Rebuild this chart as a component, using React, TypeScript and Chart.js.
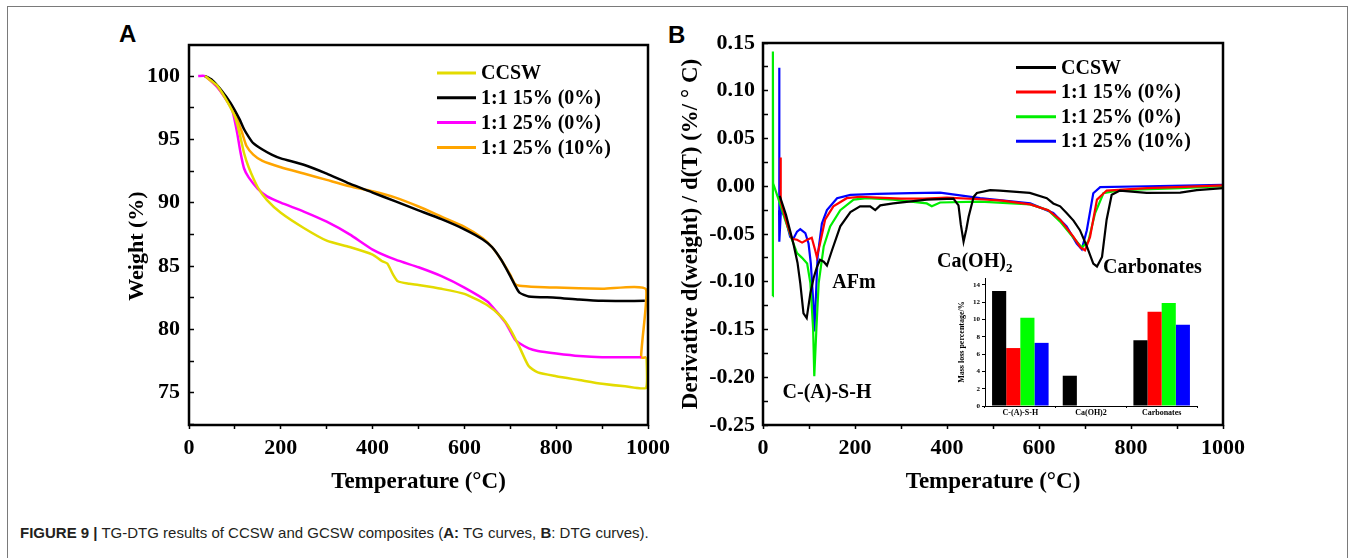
import React, { useEffect, useRef } from "react";
import { Chart, registerables } from "chart.js";

Chart.register(...registerables);

const SERIF = "'Liberation Serif', 'Times New Roman', Times, serif";
const SANS = "'Liberation Sans', Arial, Helvetica, sans-serif";

type Pt = [number, number];

// ---------- Panel A : TG curves (temperature °C, weight %) ----------
const TG_LABELS = ["CCSW", "1:1 15% (0%)", "1:1 25% (0%)", "1:1 25% (10%)"];
const TG_COLORS = ["#e3db00", "#000000", "#ff00ff", "#ffa500"];

const TG_CCSW: Pt[] = [[35,100],[60,99.3],[80,98.2],[100,96.8],[110,95.5],[120,93.9],[130,92.8],[150,91.2],[170,90.2],[200,89.2],[250,88.0],[300,87.0],[350,86.5],[400,85.9],[420,85.4],[432,85.2],[445,84.3],[455,83.8],[480,83.6],[500,83.5],[550,83.2],[600,82.8],[650,81.9],[680,81.0],[700,80.0],[720,78.6],[740,77.1],[760,76.6],[800,76.3],[850,76.0],[900,75.7],[950,75.5],[996,75.4],[997,77.8]];
const TG_15_0: Pt[] = [[35,100],[50,99.7],[70,98.9],[90,97.9],[110,96.6],[120,95.8],[130,95.2],[140,94.7],[160,94.2],[180,93.8],[200,93.5],[250,93.0],[300,92.3],[350,91.5],[400,90.8],[450,90.1],[500,89.4],[550,88.7],[600,87.9],[640,87.1],[660,86.5],[680,85.5],[700,84.2],[710,83.5],[720,82.9],[740,82.6],[800,82.5],[850,82.35],[900,82.25],[993,82.25]];
const TG_25_0: Pt[] = [[20,100],[35,100],[60,99.2],[80,98.2],[95,97.2],[105,95.5],[112,94.0],[120,92.7],[130,92.0],[150,91.1],[170,90.5],[200,90.0],[250,89.3],[300,88.5],[350,87.5],[400,86.3],[450,85.5],[500,84.9],[550,84.2],[600,83.3],[650,82.2],[670,81.4],[690,80.5],[710,79.2],[720,78.9],[740,78.5],[760,78.3],[800,78.1],[850,77.9],[900,77.8],[985,77.8]];
const TG_25_10: Pt[] = [[35,100],[60,99.2],[80,98.2],[100,97.0],[115,95.6],[125,94.5],[140,93.8],[160,93.3],[200,92.8],[250,92.3],[300,91.8],[350,91.3],[400,90.9],[450,90.4],[500,89.7],[550,88.9],[600,88.1],[640,87.2],[660,86.5],[680,85.5],[700,84.3],[710,83.6],[720,83.45],[760,83.35],[800,83.3],[900,83.2],[996,83.15],[985,77.8],[996,77.8]];
const TG_SERIES = [TG_CCSW, TG_15_0, TG_25_0, TG_25_10];

const TEMP_TICKS = [0, 200, 400, 600, 800, 1000];
const WEIGHT_TICKS = [75, 80, 85, 90, 95, 100];

// ---------- Panel B : DTG curves (temperature °C, d(weight)/d(T)) ----------
const DTG_LABELS = ["CCSW", "1:1 15% (0%)", "1:1 25% (0%)", "1:1 25% (10%)"];
const DTG_COLORS = ["#000000", "#ff0000", "#00ee00", "#0000ff"];

const DTG_CCSW: Pt[] = [[36,-0.01],[38,-0.0125],[50,-0.03],[66,-0.06],[75,-0.08],[81,-0.1015],[88,-0.133],[95,-0.138],[103,-0.112],[110,-0.096],[117,-0.085],[124,-0.077],[132,-0.079],[139,-0.083],[150,-0.067],[168,-0.042],[190,-0.027],[211,-0.021],[233,-0.021],[244,-0.025],[255,-0.02],[283,-0.018],[356,-0.014],[414,-0.013],[425,-0.02],[430,-0.04],[436,-0.058],[442,-0.045],[447,-0.032],[458,-0.011],[465,-0.007],[494,-0.004],[515,-0.0045],[580,-0.007],[617,-0.0125],[631,-0.018],[646,-0.021],[660,-0.028],[675,-0.036],[689,-0.046],[704,-0.063],[718,-0.081],[726,-0.084],[737,-0.074],[747,-0.035],[758,-0.009],[776,-0.0045],[834,-0.007],[907,-0.0066],[943,-0.004],[1000,-0.002]];
const DTG_15_0: Pt[] = [[37,-0.012],[38,0.03],[39,-0.015],[52,-0.039],[63,-0.055],[74,-0.056],[85,-0.059],[96,-0.056],[106,-0.054],[114,-0.068],[117,-0.074],[124,-0.06],[135,-0.035],[153,-0.021],[182,-0.0125],[211,-0.011],[250,-0.012],[300,-0.013],[350,-0.013],[400,-0.012],[472,-0.0136],[520,-0.015],[581,-0.019],[620,-0.025],[646,-0.035],[675,-0.053],[690,-0.064],[700,-0.067],[711,-0.053],[726,-0.014],[747,-0.0045],[834,-0.002],[900,-0.001],[1000,0.001]];
const DTG_25_0: Pt[] = [[21,-0.115],[21.5,0.141],[22,0.003],[34,-0.014],[48,-0.035],[63,-0.056],[74,-0.07],[85,-0.075],[96,-0.081],[103,-0.1015],[109,-0.15],[111.5,-0.199],[116,-0.15],[121,-0.1015],[132,-0.063],[146,-0.042],[168,-0.025],[197,-0.014],[226,-0.0125],[283,-0.014],[356,-0.018],[367,-0.021],[385,-0.017],[472,-0.016],[581,-0.019],[620,-0.025],[646,-0.037],[675,-0.054],[693,-0.064],[707,-0.058],[722,-0.028],[740,-0.0073],[776,-0.004],[907,-0.002],[1000,0.0]];
const DTG_25_10: Pt[] = [[35,-0.025],[35.3,0.124],[35.6,-0.058],[39,-0.025],[48,-0.032],[59,-0.053],[66,-0.055],[74,-0.0475],[81,-0.045],[92,-0.049],[99,-0.06],[104,-0.081],[108.6,-0.116],[111.5,-0.152],[115,-0.116],[118.7,-0.074],[128,-0.039],[139,-0.025],[161,-0.0125],[190,-0.009],[248,-0.008],[320,-0.0073],[385,-0.0066],[472,-0.0125],[581,-0.018],[631,-0.028],[660,-0.042],[682,-0.06],[693,-0.066],[704,-0.046],[718,-0.0073],[733,-0.001],[834,0.0],[1000,0.0015]];
const DTG_SERIES = [DTG_CCSW, DTG_15_0, DTG_25_0, DTG_25_10];

const DTG_TICKS = [-0.25, -0.2, -0.15, -0.1, -0.05, 0, 0.05, 0.1, 0.15];

// ---------- Inset : mass loss percentage ----------
const INSET_CATEGORIES = ["C-(A)-S-H", "Ca(OH)2", "Carbonates"];
const MASS_CCSW = [13.3, 3.5, 7.6];
const MASS_15_0 = [6.7, null, 10.9];
const MASS_25_0 = [10.2, null, 11.9];
const MASS_25_10 = [7.3, null, 9.4];
const INSET_COLORS = ["#000000", "#ff0000", "#00ff00", "#0000ff"];
const MASS_TICKS = [0, 2, 4, 6, 8, 10, 12, 14];

// ---------- helpers ----------
const toXY = (pts: Pt[]) => pts.map(([x, y]) => ({ x, y }));
const bold = (size: number, family = SERIF) => ({ family, size, weight: "bold" as const });
function ticksBetween(min: number, max: number, step: number) {
  const out: number[] = [];
  const k0 = Math.ceil(min / step - 1e-9);
  const k1 = Math.floor(max / step + 1e-9);
  for (let k = k0; k <= k1; k++) out.push(Math.round(k * step * 1e6) / 1e6);
  return out;
}
const isIn = (v: number, arr: number[]) => arr.some((m) => Math.abs(m - v) < 1e-7);

const boxPlugin = {
  id: "box",
  afterDraw(chart: any) {
    const { ctx, chartArea: a } = chart;
    ctx.save();
    ctx.strokeStyle = "#000";
    ctx.lineWidth = 2.5;
    ctx.strokeRect(a.left, a.top, a.right - a.left, a.bottom - a.top);
    ctx.restore();
  },
};

function legendPlugin(labels: string[], colors: string[], x0: number, x1: number, tx: number, y0: number, dy: number) {
  return {
    id: "customLegend",
    afterDraw(chart: any) {
      const ctx = chart.ctx;
      ctx.save();
      ctx.font = `bold 20px ${SERIF}`;
      ctx.textBaseline = "middle";
      ctx.textAlign = "left";
      labels.forEach((lab, i) => {
        const y = y0 + i * dy;
        ctx.strokeStyle = colors[i];
        ctx.lineWidth = 3;
        ctx.beginPath();
        ctx.moveTo(x0, y);
        ctx.lineTo(x1, y);
        ctx.stroke();
        ctx.fillStyle = "#000";
        ctx.fillText(lab, tx, y + 1);
      });
      ctx.restore();
    },
  };
}

const weightTitlePlugin = {
  id: "weightTitle",
  afterDraw(chart: any) {
    const ctx = chart.ctx;
    ctx.save();
    ctx.translate(137, 246);
    ctx.rotate(-Math.PI / 2);
    ctx.font = `bold 22px ${SERIF}`;
    ctx.fillStyle = "#000";
    ctx.textAlign = "center";
    ctx.textBaseline = "middle";
    ctx.fillText("Weight (%)", 0, 0);
    ctx.restore();
  },
};

const annotationPlugin = {
  id: "peaks",
  afterDraw(chart: any) {
    const ctx = chart.ctx;
    const ox = 660;
    ctx.save();
    ctx.fillStyle = "#000";
    ctx.textBaseline = "alphabetic";
    ctx.font = `bold 20px ${SERIF}`;
    ctx.textAlign = "center";
    ctx.fillText("AFm", 854 - ox, 288);
    ctx.fillText("C-(A)-S-H", 827 - ox, 398);
    ctx.textAlign = "left";
    ctx.fillText("Ca(OH)", 937 - ox, 267);
    const w = ctx.measureText("Ca(OH)").width;
    ctx.font = `bold 13px ${SERIF}`;
    ctx.fillText("2", 937 - ox + w, 272);
    ctx.font = `bold 20px ${SERIF}`;
    ctx.fillText("Carbonates", 1103 - ox, 273);
    ctx.restore();
  },
};

function xTempScale() {
  return {
    type: "linear" as const,
    min: 0,
    max: 1000,
    afterFit: (s: any) => { s.height = 75; },
    afterBuildTicks: (s: any) => { s.ticks = ticksBetween(0, 1000, 100).map((value) => ({ value })); },
    ticks: {
      autoSkip: false,
      maxRotation: 0,
      color: "#000",
      font: bold(22),
      padding: 6,
      callback: (v: any) => (isIn(Number(v), TEMP_TICKS) ? String(v) : ""),
    },
    grid: { drawOnChartArea: false, tickLength: 4, tickWidth: 1.5, tickColor: "#000" },
    border: { display: false },
    title: { display: true, text: "Temperature (°C)", color: "#000", font: bold(23), padding: { top: 0, bottom: 4 } },
  };
}

function makeTG(canvas: HTMLCanvasElement) {
  const yMin = 72.45, yMax = 102.45;
  return new Chart(canvas, {
    type: "line",
    data: {
      datasets: TG_SERIES.map((pts, i) => ({
        label: TG_LABELS[i],
        data: toXY(pts),
        borderColor: TG_COLORS[i],
        backgroundColor: TG_COLORS[i],
        borderWidth: 2.5,
        pointRadius: 0,
        tension: 0.2,
        fill: false,
      })),
    },
    options: {
      animation: false,
      responsive: false,
      devicePixelRatio: 1,
      layout: { padding: { left: 0, top: 45, right: 32, bottom: 0 } },
      plugins: { legend: { display: false }, tooltip: { enabled: false } },
      scales: {
        x: xTempScale(),
        y: {
          type: "linear",
          min: yMin,
          max: yMax,
          afterFit: (s: any) => { s.width = 189; },
          afterBuildTicks: (s: any) => { s.ticks = ticksBetween(yMin, yMax, 2.5).map((value) => ({ value })); },
          ticks: {
            autoSkip: false,
            color: "#000",
            font: bold(22),
            padding: 14,
            callback: (v: any) => (isIn(Number(v), WEIGHT_TICKS) ? String(v) : ""),
          },
          grid: { drawOnChartArea: false, tickLength: -5, tickWidth: 1.5, tickColor: "#000" },
          border: { display: false },
          title: { display: false },
        },
      },
    } as any,
    plugins: [boxPlugin, weightTitlePlugin, legendPlugin(TG_LABELS, TG_COLORS, 437, 476, 481, 73, 24.8)],
  });
}

function makeDTG(canvas: HTMLCanvasElement) {
  const yMin = -0.25, yMax = 0.15;
  return new Chart(canvas, {
    type: "line",
    data: {
      datasets: DTG_SERIES.map((pts, i) => ({
        label: DTG_LABELS[i],
        data: toXY(pts),
        borderColor: DTG_COLORS[i],
        backgroundColor: DTG_COLORS[i],
        borderWidth: 2.2,
        pointRadius: 0,
        tension: 0,
        fill: false,
      })),
    },
    options: {
      animation: false,
      responsive: false,
      devicePixelRatio: 1,
      layout: { padding: { left: 0, top: 43, right: 131, bottom: 0 } },
      plugins: { legend: { display: false }, tooltip: { enabled: false } },
      scales: {
        x: xTempScale(),
        y: {
          type: "linear",
          min: yMin,
          max: yMax,
          afterFit: (s: any) => { s.width = 103; },
          afterBuildTicks: (s: any) => { s.ticks = ticksBetween(yMin, yMax, 0.025).map((value) => ({ value })); },
          ticks: {
            autoSkip: false,
            color: "#000",
            font: bold(22),
            padding: 13,
            callback: (v: any) => (isIn(Number(v), DTG_TICKS) ? Number(v).toFixed(2) : ""),
          },
          grid: { drawOnChartArea: false, tickLength: -5, tickWidth: 1.5, tickColor: "#000" },
          border: { display: false },
          title: { display: true, text: "Derivative d(weight) / d(T) (%/ ° C)", color: "#000", font: bold(23), padding: { top: 17, bottom: 0 } },
        },
      },
    } as any,
    plugins: [boxPlugin, annotationPlugin, legendPlugin(DTG_LABELS, DTG_COLORS, 1016 - 660, 1056 - 660, 1061 - 660, 67.5, 24.6)],
  });
}

function makeInset(canvas: HTMLCanvasElement) {
  const series = [MASS_CCSW, MASS_15_0, MASS_25_0, MASS_25_10];
  return new Chart(canvas, {
    type: "bar",
    data: {
      labels: INSET_CATEGORIES,
      datasets: series.map((d, i) => ({
        label: DTG_LABELS[i],
        data: d,
        backgroundColor: INSET_COLORS[i],
        borderWidth: 0,
        barPercentage: 1,
        categoryPercentage: 0.8,
      })),
    },
    options: {
      animation: false,
      responsive: false,
      devicePixelRatio: 1,
      layout: { padding: { left: 0, top: 8, right: 5, bottom: 0 } },
      plugins: { legend: { display: false }, tooltip: { enabled: false } },
      scales: {
        x: {
          afterFit: (s: any) => { s.height = 18; },
          ticks: { color: "#000", font: bold(8), padding: 0, maxRotation: 0, autoSkip: false },
          grid: { drawOnChartArea: false, offset: true, tickLength: 2, tickColor: "#000" },
          border: { display: true, color: "#000", width: 1 },
        },
        y: {
          type: "linear",
          min: 0,
          max: 14.8,
          afterFit: (s: any) => { s.width = 55; },
          afterBuildTicks: (s: any) => { s.ticks = MASS_TICKS.map((value) => ({ value })); },
          ticks: { color: "#000", font: bold(7), padding: 2, autoSkip: false },
          grid: { drawOnChartArea: false, tickLength: 3, tickColor: "#000" },
          border: { display: true, color: "#000", width: 1 },
          title: { display: true, text: "Mass loss percentage/%", color: "#000", font: bold(8), padding: { top: 27, bottom: 0 } },
        },
      },
    } as any,
  });
}

function ChartCanvas({ make, left, top, width, height }: { make: (c: HTMLCanvasElement) => Chart; left: number; top: number; width: number; height: number }) {
  const ref = useRef<HTMLCanvasElement | null>(null);
  useEffect(() => {
    if (!ref.current) return;
    const chart = make(ref.current);
    return () => chart.destroy();
  }, []);
  return (
    <canvas
      ref={ref}
      width={width}
      height={height}
      style={{ position: "absolute", left, top, width, height }}
    />
  );
}

export default function App() {
  return (
    <div style={{ position: "absolute", left: 0, top: 0, width: 1354, height: 558, background: "#fff", overflow: "hidden" }}>
      <div style={{ position: "absolute", left: 7, top: 6, width: 1341, height: 700, border: "1px solid #7a7a7a", boxSizing: "border-box" }} />
      <div style={{ position: "absolute", left: 119, top: 22, font: `bold 24px/24px ${SANS}`, color: "#000" }}>A</div>
      <div style={{ position: "absolute", left: 668, top: 23, font: `bold 24px/24px ${SANS}`, color: "#000" }}>B</div>
      <ChartCanvas make={makeTG} left={0} top={0} width={680} height={500} />
      <ChartCanvas make={makeDTG} left={660} top={0} width={694} height={500} />
      <ChartCanvas make={makeInset} left={930} top={270} width={272} height={154} />
      <div style={{ position: "absolute", left: 20, top: 525, font: `15px/15px ${SANS}`, color: "#231f20", whiteSpace: "nowrap" }}>
        <b>FIGURE 9 |</b> TG-DTG results of CCSW and GCSW composites (<b>A:</b> TG curves, <b>B</b>: DTG curves).
      </div>
    </div>
  );
}
